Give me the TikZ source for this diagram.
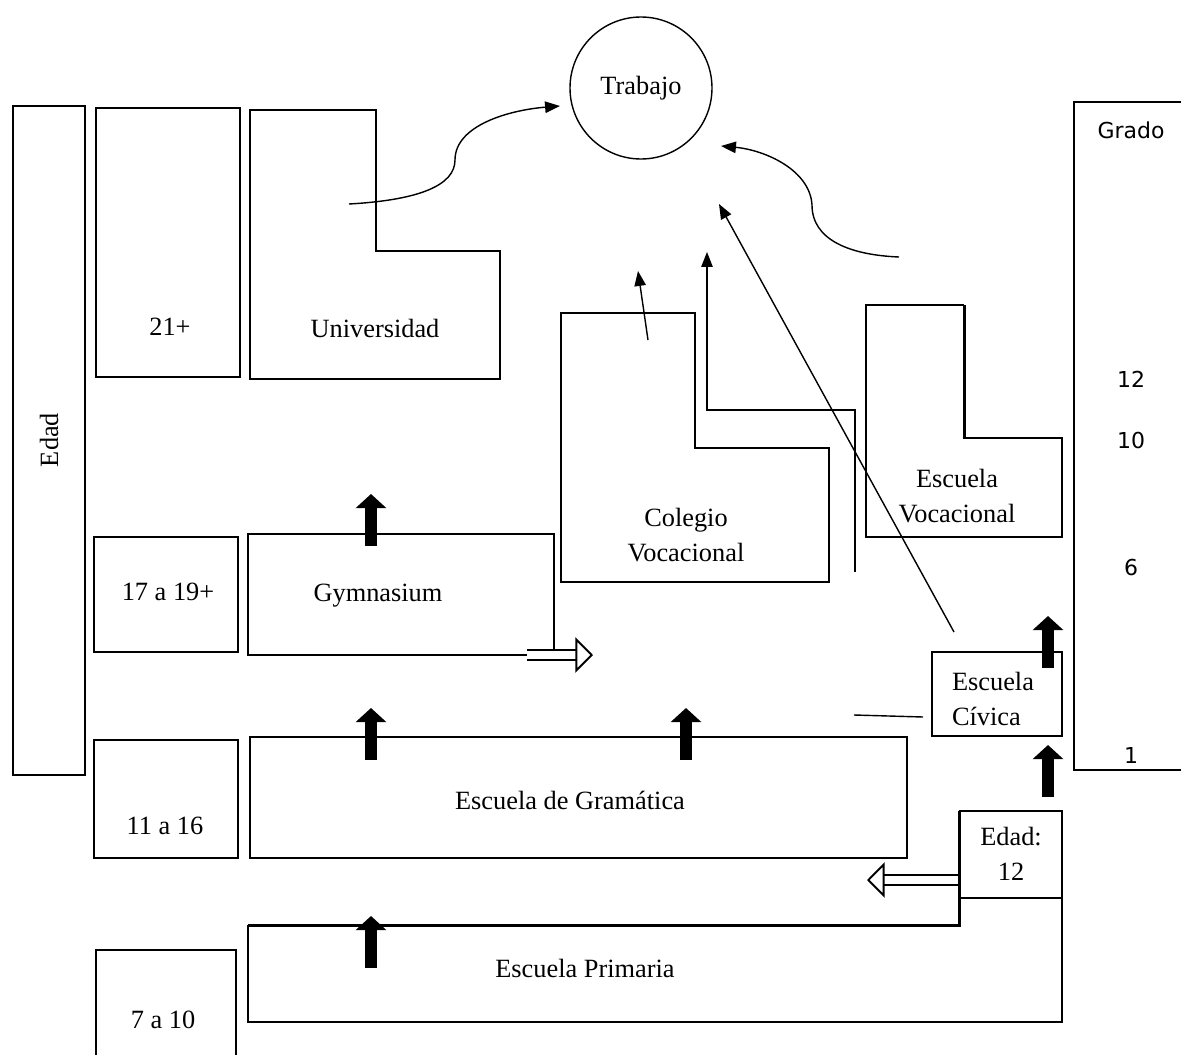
\documentclass[tikz,border=0pt]{standalone}
\usepackage{fontspec}
\setmainfont{Liberation Serif}
\newfontfamily\gradofont{DejaVu Sans}
\usetikzlibrary{arrows.meta}

\tikzset{
  outline/.style={line width=0.8pt},
  heavy/.style={line width=1.7pt},
  lbl/.style={font=\fontsize{15}{20}\selectfont, align=center, inner sep=0pt},
  grado/.style={font=\gradofont\fontsize{12.5}{14}\selectfont, inner sep=0pt},
  flow/.style={line width=0.8pt, -{Triangle[width=6.5pt,length=8.5pt]}},
  uparrow/.style={line width=7pt, -{Triangle[width=17pt,length=8pt]}},
  hollow/.style={double, double distance=5pt, line width=1.1pt,
    -{Triangle[width=20pt,length=10pt,fill=white,line width=1.1pt]}}
}

\begin{document}
\begin{tikzpicture}[x=0.02cm, y=-0.02cm]
  \useasboundingbox (0,0) rectangle (1181,1055);

  % Edad column
  \draw[outline] (13,106) rectangle (85,775);
  \node[lbl, rotate=90] (edad) at (49,440) {Edad};
  \draw[outline] (96,108) rectangle (240,377);
  \node[lbl] (age21) at (170,327) {21+};
  \draw[outline] (94,537) rectangle (238,652);
  \node[lbl] (age17) at (168,592) {17 a 19+};
  \draw[outline] (94,740) rectangle (238,858);
  \node[lbl] (age11) at (165,826) {11 a 16};
  \draw[outline] (96,1070) -- (96,950) -- (236,950) -- (236,1070);
  \node[lbl] (age7) at (163,1020) {7 a 10};

  % Grado column
  \draw[outline] (1074,102) rectangle (1190,770);
  \node[grado] (gradotitle) at (1131,130) {Grado};
  \foreach \y/\g in {379/12, 441/10, 567/6, 755/1}
    \node[grado] (grado\g) at (1131,\y) {\g};

  % Trabajo
  \node[draw, outline, circle, minimum size=142*0.02cm, lbl] (trabajo) at (641,88) {Trabajo};

  % Schools
  \draw[outline] (250,110) -- (376,110) -- (376,251) -- (500,251) -- (500,379) -- (250,379) -- cycle;
  \node[lbl] (uni) at (375,328) {Universidad};
  \draw[outline] (561,313) -- (695,313) -- (695,448) -- (829,448) -- (829,582) -- (561,582) -- cycle;
  \node[lbl] (colegio) at (686,535) {Colegio\\Vocacional};
  \draw[outline] (964,438) -- (1062,438) -- (1062,537) -- (866,537) -- (866,305) -- (964,305);
  \draw[heavy] (964,305) -- (964,438) -- (1062,438);
  \node[lbl] (escvoc) at (957,496) {Escuela\\Vocacional};
  \draw[outline] (248,534) rectangle (554,655);
  \node[lbl] (gym) at (378,596) {Gymnasium};
  \draw[outline] (250,737) rectangle (907,858);
  \node[lbl] (gram) at (570,800) {Escuela de Gramática};
  \draw[outline] (932,652) rectangle (1062,736);
  \node[lbl, align=left] (civica) at (993,699) {Escuela\\Cívica};
  \draw[outline] (960,811) rectangle (1062,898);
  \draw[heavy] (959,811) -- (959,925) -- (248,925);
  \node[lbl] (edad12) at (1011,854) {Edad:\\12};
  \draw[outline] (248,925) -- (248,1022) -- (1062,1022) -- (1062,898);
  \node[lbl] (primaria) at (585,968) {Escuela Primaria};

  % Paths to Trabajo
  \coordinate (uniout) at (349,204);
  \coordinate (trabin1) at (560,106);
  \coordinate (vocout) at (899,257);
  \coordinate (trabin2) at (721,146);
  \draw[flow] (uniout) .. controls (420,200) and (455,185) .. (455,160)
    .. controls (455,125) and (510,110) .. (trabin1);
  \draw[flow] (vocout) .. controls (850,255) and (812,240) .. (812,205)
    .. controls (810,170) and (765,150) .. (trabin2);
  \coordinate (colout) at (648,340);
  \coordinate (colin) at (638,271);
  \draw[flow] (colout) -- (colin);
  \coordinate (sideout) at (855,572);
  \coordinate (sidein) at (707,252);
  \draw[flow] (sideout) -- (855,410) -- (707,410) -- (sidein);
  \coordinate (civout) at (954,632);
  \coordinate (civin) at (719,204);
  \draw[flow] (civout) -- (civin);
  \coordinate (gramout) at (854,715);
  \coordinate (civleft) at (923,717);
  \draw[outline] (gramout) -- (civleft);

  % Block arrows
  \foreach \x/\y in {371/546, 371/760, 686/760, 371/968, 1048/668, 1048/797}
    \draw[uparrow] (\x,\y) -- ++(0,-52);
  \draw[hollow] (527,655) -- (593,655);
  \draw[hollow] (958,880) -- (867,880);
\end{tikzpicture}
\end{document}
